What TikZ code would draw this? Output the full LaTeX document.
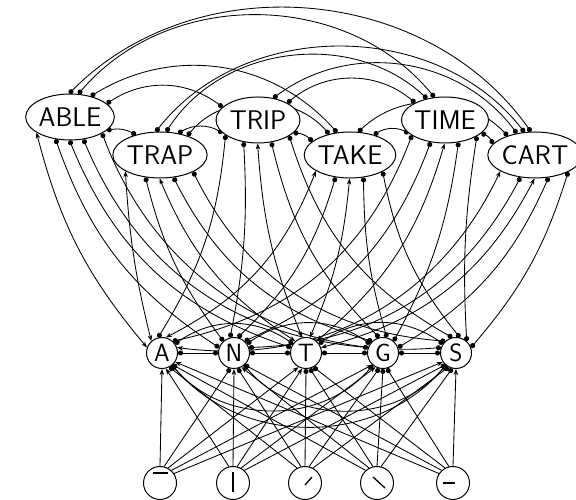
\documentclass[tikz,border=0pt]{standalone}
\usetikzlibrary{shapes.geometric,arrows.meta,backgrounds}
\tikzset{
  word/.style={ellipse, draw, fill=white, line width=1pt, minimum width=84pt,
    minimum height=46pt, inner sep=0pt, font=\fontsize{27}{27}\sffamily},
  letter/.style={circle, draw, fill=white, line width=1pt, minimum size=31pt,
    inner sep=0pt, font=\fontsize{25}{25}\sffamily},
  feat/.style={circle, draw, fill=white, line width=1pt, minimum size=33pt, inner sep=0pt},
  conn/.style={line width=0.85pt},
  inh/.style={conn, {Circle[length=5pt]}-{Circle[length=5pt]}},
  exc/.style={conn, {Stealth[length=6pt,width=4.5pt]}-{Stealth[length=6pt,width=4.5pt]}},
  upexc/.style={conn, -{Stealth[length=6pt,width=4.5pt]}},
  upinh/.style={conn, -{Circle[length=5pt]}},
}
\begin{document}
\begin{tikzpicture}[x=1pt, y=1pt]
  \useasboundingbox (0,0) rectangle (576,500);
  % Word units
  \node[word] (ABLE) at (70,383) {ABLE};
  \node[word] (TRAP) at (160,345) {TRAP};
  \node[word] (TRIP) at (258,380) {TRIP};
  \node[word] (TAKE) at (350,345) {TAKE};
  \node[word] (TIME) at (445,380) {TIME};
  \node[word] (CART) at (535,345) {CART};
  % Letter units
  \foreach \l/\lx in {A/162, N/234, T/306, G/383, S/456}
    \node[letter] (\l) at (\lx,147) {\l};
  % Feature units
  \foreach \f/\fx in {1/160, 2/233, 3/305, 4/377, 5/453}
    \node[feat] (f\f) at (\fx,17) {};
  % Feature strokes
  \draw[line width=1.3pt, shift={(f1.center)}] (-7,10) -- (8,10);
  \draw[line width=1.3pt, shift={(f2.center)}] (0,11) -- (0,-9);
  \draw[line width=1.3pt, shift={(f3.center)}] (0,-2) -- (7,6);
  \draw[line width=1.3pt, shift={(f4.center)}] (-4,6) -- (8,-5);
  \draw[line width=1.3pt, shift={(f5.center)}] (-10,0) -- (2,0);
  \begin{pgfonlayer}{background}
    % Word-word inhibition
    \foreach \a/\sa/\b/\eb/\bd in {ABLE/-20/TRAP/140/20, ABLE/20/TRIP/160/35,
        ABLE/45/TAKE/120/40, ABLE/70/TIME/115/50, ABLE/92/CART/100/50,
        TRAP/50/TRIP/200/30, TRAP/35/TAKE/135/50, TRAP/75/TIME/130/50,
        TRAP/100/CART/115/52, TRIP/-20/TAKE/160/20, TRIP/30/TIME/150/40,
        TRIP/55/CART/130/45, TAKE/40/TIME/200/30, TAKE/70/CART/145/45,
        TIME/-20/CART/165/20}
      \draw[inh] (\a.\sa) to[bend left=\bd] (\b.\eb);
    % Word-letter excitation
    \foreach \w/\j/\l/\i in {ABLE/0/A/0, TRAP/1/A/0, TRAP/1/T/2, TRIP/2/T/2,
        TAKE/3/A/0, TAKE/3/T/2, TIME/4/T/2, CART/5/A/0, CART/5/T/2} {
      \pgfmathsetmacro\wx{{70,160,258,350,445,535}[\j]}
      \pgfmathsetmacro\lx{{162,234,306,383,456}[\i]}
      \pgfmathsetmacro\bd{(\lx>\wx ? -1 : 1)*(5+abs(\lx-\wx)/12)}
      \draw[exc] (\w.{205+32*\i}) to[bend left=\bd] (\l.{160-28*\j});
    }
    % Word-letter inhibition
    \foreach \w/\j/\l/\i in {ABLE/0/N/1, ABLE/0/T/2, ABLE/0/G/3, ABLE/0/S/4,
        TRAP/1/N/1, TRAP/1/G/3, TRAP/1/S/4, TRIP/2/A/0, TRIP/2/N/1, TRIP/2/G/3,
        TRIP/2/S/4, TAKE/3/N/1, TAKE/3/G/3, TAKE/3/S/4, TIME/4/A/0, TIME/4/N/1,
        TIME/4/G/3, TIME/4/S/4, CART/5/N/1, CART/5/G/3, CART/5/S/4} {
      \pgfmathsetmacro\wx{{70,160,258,350,445,535}[\j]}
      \pgfmathsetmacro\lx{{162,234,306,383,456}[\i]}
      \pgfmathsetmacro\bd{(\lx>\wx ? -1 : 1)*(5+abs(\lx-\wx)/12)}
      \draw[inh] (\w.{205+32*\i}) to[bend left=\bd] (\l.{160-28*\j});
    }
    % Letter-letter inhibition
    \foreach \a/\b in {A/N, N/T, T/G, G/S}
      \draw[inh] (\a) -- (\b);
    \foreach \a/\b in {A/T, N/G, T/S}
      \draw[inh] (\a) to[bend left=35] (\b);
    \foreach \a/\b in {A/G, N/S, A/S}
      \draw[inh] (\a) to[bend right=50] (\b);
    % Feature-letter connections
    \foreach \k/\l/\i in {1/A/0, 1/T/2, 1/G/3, 1/S/4, 2/A/0, 2/N/1, 2/T/2,
        2/G/3, 4/N/1, 5/A/0, 5/S/4}
      \draw[upexc] (f\k.{90+14*(\k-1-\i)}) -- (\l.{270+14*(\k-1-\i)});
    \foreach \k/\l/\i in {1/N/1, 2/S/4, 3/A/0, 3/N/1, 3/T/2, 3/G/3, 3/S/4,
        4/A/0, 4/T/2, 4/G/3, 4/S/4, 5/N/1, 5/T/2, 5/G/3}
      \draw[upinh] (f\k.{90+14*(\k-1-\i)}) -- (\l.{270+14*(\k-1-\i)});
  \end{pgfonlayer}
\end{tikzpicture}
\end{document}
